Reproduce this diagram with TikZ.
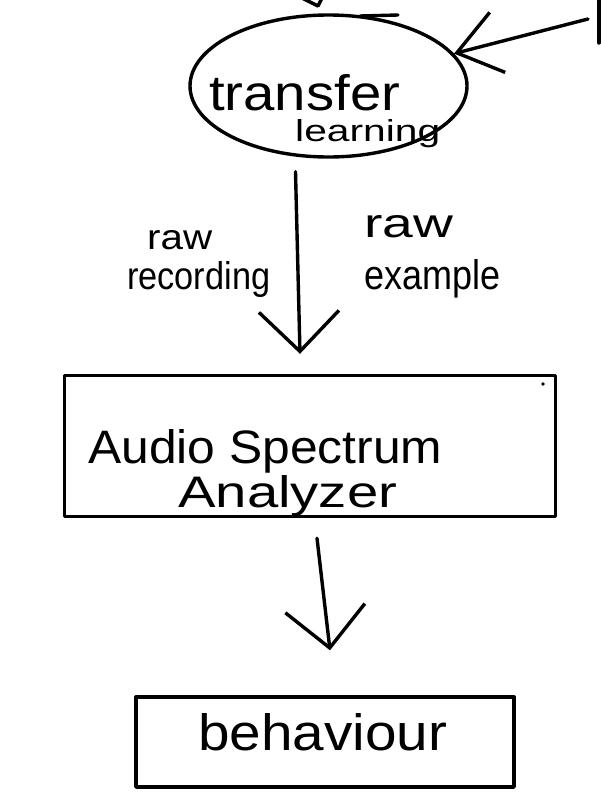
\documentclass[tikz,border=0pt]{standalone}
\usepackage{fontspec}
\setmainfont{Liberation Sans}
\usetikzlibrary{shapes.geometric,arrows.meta,calc}
\tikzset{
  ink/.style={line width=3.4pt, line cap=round, line join=round, black},
  shapebox/.style={ink, draw, inner sep=0pt},
  txt/.style={inner sep=0pt, anchor=base west},
  barbarrow/.style={ink, -{Straight Barb[length=40pt, width=80pt, line width=3.4pt]}},
  smallbarb/.style={ink, -{Straight Barb[length=42pt, width=62pt, line width=3.4pt]}}
}
\newcommand{\fitwh}[3]{\resizebox{#1}{#2}{#3}}
\begin{document}
\begin{tikzpicture}[x=1pt,y=-1pt]
  \useasboundingbox[fill=white] (0,0) rectangle (601,811);

  % shapes
  \node[shapebox, ellipse, minimum width=277pt, minimum height=142pt] (tl) at (328.5,86) {};
  \node[shapebox, rectangle, minimum width=491pt, minimum height=141pt] (b1) at (310,446) {};
  \node[shapebox, rectangle, minimum width=378pt, minimum height=90pt] (b2) at (325,742) {};

  % texts
  \node[txt] (t1) at (209,110) {\fitwh{191pt}{36pt}{transfer}};
  \node[txt] (t2) at (295,141) {\fitwh{145pt}{22pt}{learning}};
  \node[txt] (l1) at (147,249) {\fitwh{65pt}{19pt}{raw}};
  \node[txt] (l2) at (127,289) {\fitwh{143pt}{28pt}{recording}};
  \node[txt] (r1) at (364,237) {\fitwh{89pt}{22pt}{raw}};
  \node[txt] (r2) at (364,289) {\fitwh{136pt}{30pt}{example}};
  \node[txt] (a1) at (88,463) {\fitwh{354pt}{34pt}{Audio Spectrum}};
  \node[txt] (a2) at (178,507) {\fitwh{219pt}{32pt}{Analyzer}};
  \node[txt] (bh) at (198,750) {\fitwh{249pt}{37pt}{behaviour}};

  % free ends
  \coordinate (in) at (588,19);

  % connectors
  \draw[smallbarb] (in) -- (tl);
  \draw[barbarrow] ($(tl.south)+(-33,13)$) -- ($(b1.north)+(-10,-20)$);
  \draw[barbarrow] ($(b1.south)+(7,20)$) -- ($(b2.north)+(5,-45)$);

  % stray strokes of the sketch
  \draw[ink] (302,-2) -- (318,6) -- (322,-2);
  \draw[ink] (599,-2) -- (599,43);
  \draw[ink] (360,16) -- (398,15);
  \fill (543,384) circle (1.8pt);
\end{tikzpicture}
\end{document}
